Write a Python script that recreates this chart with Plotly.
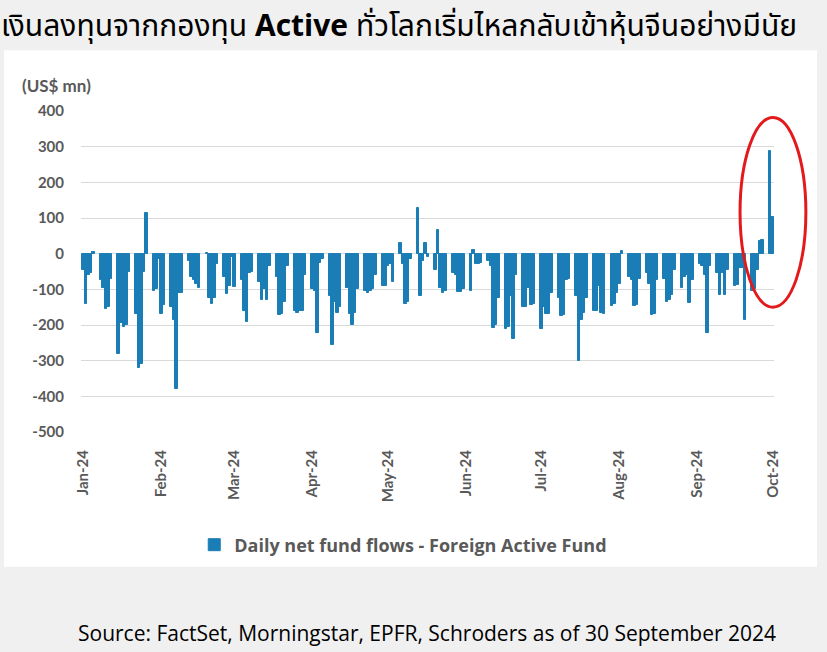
import pandas as pd
import plotly.graph_objects as go

# Daily net fund flows (US$ mn), one value per weekday
jan = [-45, -140, -60, -55, 6, -75, -95, -155, -150, -70, -280, -195, -205, -200, -50,
       -170, -320, -310, -50, 115, -105, -100, -15]
feb = [-168, -145, -150, -185, -380, -110, -110, -20, -65, -75, -85, -95,
       3, -125, -142, -125, -30, -65, -112, -90, -10]
mar = [-93, -75, -160, -192, -55, -50, -80, -130, -100, -130, -35,
       -65, -172, -170, -135, -35, -160, -165, -162, -160, -60]
apr = [-100, -105, -222, -25, -15, -120, -255, -135, -165, -150, -95, -170, -200, -165, -100,
       -105, -110, -105, -100, -60, -90, -90]
may = [-35, -30, -80, 30, -30, -140, -135, -15, 128, -120, -20, 30, -10,
       -45, 65, -95, -110, -105, -55, -60, -108, -108, -100]
jun = [-105, 10, -30, -28, -25, -20, -35, -207, -200, -125,
       -212, -205, -120, -238, -60, -150, -150, -95, -145, -140]
jul = [-212, -150, -170, -170, -110, -125, -175, -172, -75, -72, -120, -300, -185, -165, -125,
       -160, -162, -90, -165, -168, -148, -140, -110]
aug = [-85, 8, -65, -75, -148, -145, -70, -55, -85, -172, -170, -75,
       -70, -135, -130, -115, -45, -95, -65, -60, -138, -75]
sep = [-30, -35, -60, -222, -35, -55, -115, -55, -115, -45, -90, -88, -40, -40, -185,
       -105, -100, -45, 35, 38, 287]
oct = [104]

flows = jan + feb + mar + apr + may + jun + jul + aug + sep + oct
dates = pd.bdate_range("2024-01-01", "2024-10-01")

# y ticks written with a plain hyphen, as in the original
y_ticks = [400, 300, 200, 100, 0, -100, -200, -300, -400, -500]
y_labels = [str(v) for v in y_ticks]

title_text = "เงินลงทุนจากกองทุน <b>Active</b> ทั่วโลกเริ่มไหลกลับเข้าหุ้นจีนอย่างมีนัย"
source_text = "Source: FactSet, Morningstar, EPFR, Schroders as of 30 September 2024"
series_name = "Daily net fund flows - Foreign Active Fund"

bar_color = "#1b7db5"
grey_text = "#595959"

fig = go.Figure()
fig.add_trace(go.Bar(
    x=dates, y=flows, name=series_name,
    marker=dict(color=bar_color, line=dict(color=bar_color, width=1)),
    width=86400000,
    showlegend=True,
))

fig.update_layout(
    width=827, height=652,
    margin=dict(l=81, r=53, t=111, b=220),
    paper_bgcolor="#f0f0f0",
    plot_bgcolor="white",
    font=dict(family="Lato, Open Sans, sans-serif", color=grey_text),
    bargap=0,
    showlegend=True,
    legend=dict(
        orientation="h", x=0.465, xanchor="center", y=-0.352, yanchor="middle",
        font=dict(size=18, color=grey_text, family="Open Sans, sans-serif", weight="bold"),
        bgcolor="rgba(0,0,0,0)",
        itemwidth=30,
    ),
    xaxis=dict(
        type="date",
        range=["2023-12-31", "2024-10-01 12:00"],
        tick0="2024-01-01", dtick="M1", tickformat="%b-%y",
        tickangle=-90,
        showgrid=False, zeroline=False, showline=False,
        tickfont=dict(size=15, color=grey_text, weight="bold"),
        ticklabelstandoff=14,
    ),
    yaxis=dict(
        range=[-500, 400],
        tickmode="array", tickvals=y_ticks, ticktext=y_labels,
        showgrid=True, gridcolor="#d9d9d9", gridwidth=1,
        zeroline=False, showline=False,
        tickfont=dict(size=15, color=grey_text, weight="bold"),
        ticklabelstandoff=16,
    ),
    shapes=[
        # white chart panel
        dict(type="rect", xref="paper", yref="paper",
             x0=-0.111, x1=1.062, y0=-0.420, y1=1.189,
             fillcolor="white", line=dict(width=0), layer="below"),
        # red highlight ellipse
        dict(type="circle", xref="paper", yref="y",
             x0=0.951, x1=1.046, y0=-150, y1=382,
             line=dict(color="#e31a1c", width=3)),
    ],
    annotations=[
        dict(text=title_text, xref="paper", yref="paper", x=-0.118, y=1.262,
             xanchor="left", yanchor="middle", showarrow=False,
             font=dict(size=30, color="black", family="Noto Sans Thai, Noto Sans, sans-serif")),
        dict(text="(US$ mn)", xref="paper", yref="paper", x=-0.088, y=1.08,
             xanchor="left", yanchor="middle", showarrow=False,
             font=dict(size=17, color=grey_text, weight="bold")),
        dict(text=source_text, xref="paper", yref="paper", x=0.499, y=-0.626,
             xanchor="center", yanchor="middle", showarrow=False,
             font=dict(size=21, color="black", family="Open Sans, sans-serif")),
    ],
)

# drop the default page margin so the figure sits at the window's top-left corner
fig.write_html("out.html", config={"displayModeBar": False},
               post_script="document.body.style.margin='0';")
